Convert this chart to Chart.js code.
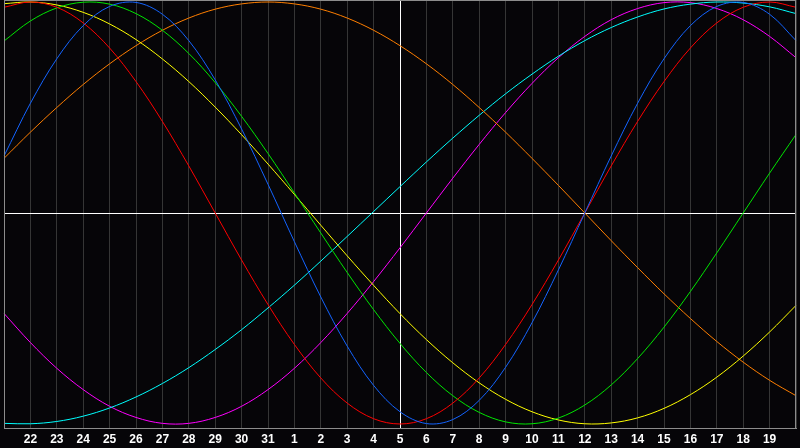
<!DOCTYPE html>
<html>
<head>
<meta charset="utf-8">
<script src="https://cdn.jsdelivr.net/npm/chart.js@4/dist/chart.umd.min.js"></script>
<style>
  html, body { margin: 0; padding: 0; background: #060508; }
  canvas { display: block; }
</style>
</head>
<body>
<canvas id="bio" width="800" height="448"></canvas>
<script>
// dias que se muestran en el eje X (el primero y el ultimo quedan sin etiqueta)
const dias = [21,22,23,24,25,26,27,28,29,30,31,1,2,3,4,5,6,7,8,9,10,11,12,13,14,15,16,17,18,19,20];
const hoy = 15; // posicion del dia 5 (linea blanca vertical)

// valores de cada ciclo (-1 .. 1)
const fisico = [0.270,0.520,0.731,0.888,0.979,0.998,0.942,0.817,0.631,0.398,0.136,-0.136,-0.398,-0.631,-0.817,-0.942,-0.998,-0.979,-0.888,-0.731,-0.520,-0.270,0,0.270,0.520,0.731,0.888,0.979,0.998,0.942,0.817];
const emocional = [0.975,1.000,0.975,0.901,0.782,0.623,0.434,0.223,0,-0.223,-0.434,-0.623,-0.782,-0.901,-0.975,-1.000,-0.975,-0.901,-0.782,-0.623,-0.434,-0.223,0,0.223,0.434,0.623,0.782,0.901,0.975,1.000,0.975];
const intelectual = [0.815,0.910,0.972,0.999,0.990,0.945,0.866,0.756,0.618,0.458,0.282,0.095,-0.095,-0.282,-0.458,-0.618,-0.756,-0.866,-0.945,-0.990,-0.999,-0.972,-0.910,-0.815,-0.690,-0.541,-0.372,-0.189,0,0.189,0.372];
const estetico = [0.992,1.000,0.986,0.951,0.896,0.822,0.730,0.623,0.502,0.371,0.232,0.088,-0.058,-0.203,-0.343,-0.477,-0.600,-0.710,-0.805,-0.883,-0.942,-0.981,-0.999,-0.995,-0.971,-0.926,-0.861,-0.778,-0.678,-0.564,-0.438];
const conciencia = [0.259,0.383,0.500,0.609,0.707,0.793,0.866,0.924,0.966,0.991,1.000,0.991,0.966,0.924,0.866,0.793,0.707,0.609,0.500,0.383,0.259,0.131,0,-0.131,-0.259,-0.383,-0.500,-0.609,-0.707,-0.793,-0.866];
const espiritual = [-0.997,-0.999,-0.988,-0.963,-0.924,-0.872,-0.808,-0.733,-0.647,-0.553,-0.450,-0.342,-0.228,-0.111,0.007,0.125,0.242,0.355,0.463,0.565,0.658,0.743,0.817,0.879,0.929,0.967,0.990,1.000,0.995,0.977,0.945];
const intuitivo = [-0.476,-0.614,-0.736,-0.837,-0.916,-0.969,-0.997,-0.997,-0.969,-0.916,-0.837,-0.736,-0.614,-0.476,-0.325,-0.165,0,0.165,0.325,0.476,0.614,0.736,0.837,0.916,0.969,0.997,0.997,0.969,0.916,0.837,0.736];

function serie(label, data, color) {
    return { label: label, data: data, borderColor: color, borderWidth: 1, pointRadius: 0, tension: 0.35, fill: false };
}

// fondo, cruz blanca del dia actual y marco gris
const marco = {
    id: 'marco',
    beforeDraw(chart) {
        const ctx = chart.ctx;
        ctx.save();
        ctx.fillStyle = '#060508';
        ctx.fillRect(0, 0, chart.width, chart.height);
        ctx.restore();
    },
    beforeDatasetsDraw(chart) {
        const { ctx, chartArea: a, scales: { x, y } } = chart;
        const px = Math.round(x.getPixelForValue(hoy)) + 0.5;
        const py = Math.round(y.getPixelForValue(0)) + 0.5;
        ctx.save();
        ctx.strokeStyle = '#ffffff';
        ctx.lineWidth = 1;
        ctx.beginPath();
        ctx.moveTo(a.left, py); ctx.lineTo(a.right, py);
        ctx.moveTo(px, a.top); ctx.lineTo(px, a.bottom);
        ctx.stroke();
        ctx.restore();
    },
    afterDraw(chart) {
        const { ctx, chartArea: a } = chart;
        ctx.save();
        ctx.strokeStyle = '#8c8c8c';
        ctx.lineWidth = 1;
        ctx.strokeRect(a.left + 0.5, a.top + 0.5, a.right - a.left - 1, a.bottom - a.top);
        ctx.restore();
    }
};

new Chart(document.getElementById('bio'), {
    type: 'line',
    data: {
        labels: dias,
        datasets: [
            serie('Físico', fisico, '#1464ff'),
            serie('Emocional', emocional, '#ff0000'),
            serie('Intelectual', intelectual, '#00e600'),
            serie('Estético', estetico, '#ffff00'),
            serie('Conciencia', conciencia, '#ff7f00'),
            serie('Espiritual', espiritual, '#00ffff'),
            serie('Intuitivo', intuitivo, '#ff00ff')
        ]
    },
    options: {
        responsive: false,
        animation: false,
        devicePixelRatio: 1,
        layout: { padding: 0 },
        plugins: { legend: { display: false }, tooltip: { enabled: false } },
        scales: {
            x: {
                offset: false,
                grid: { color: '#353535', drawTicks: false, offset: false },
                border: { color: '#8c8c8c' },
                ticks: {
                    color: '#ffffff',
                    font: { family: 'Liberation Sans', size: 12, weight: 'bold' },
                    padding: 4,
                    autoSkip: false,
                    maxRotation: 0,
                    callback: function (v, i) { return (i === 0 || i === dias.length - 1) ? '' : String(dias[i]); }
                },
                afterFit: function (s) { s.height = 20; }
            },
            y: { display: false, min: -1.019, max: 1.0095 }
        }
    },
    plugins: [marco]
});
</script>
</body>
</html>
